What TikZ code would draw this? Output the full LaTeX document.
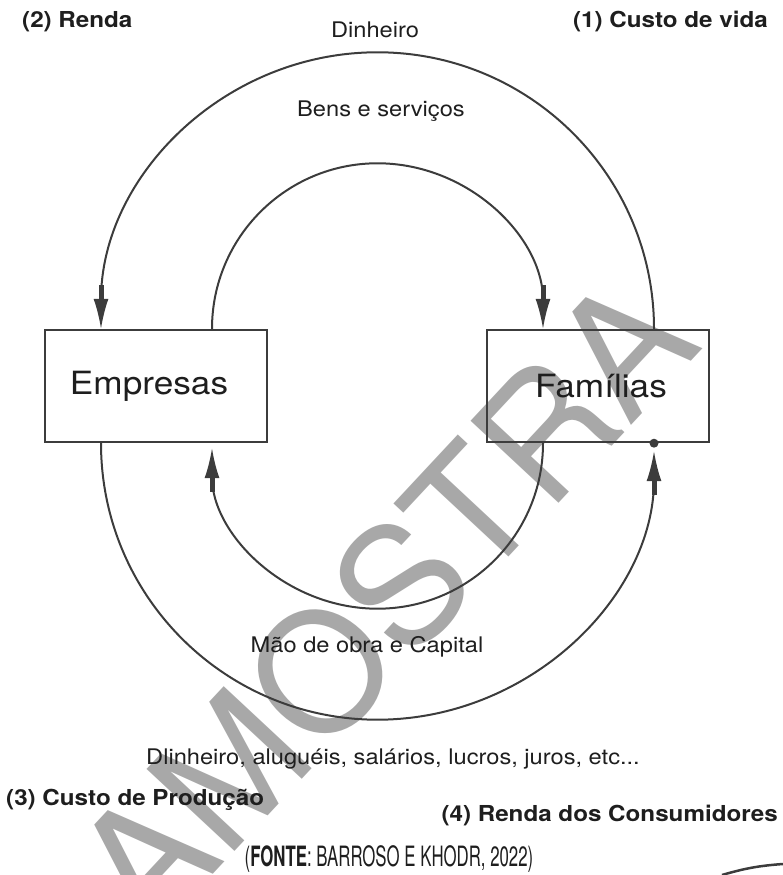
\documentclass[tikz,border=0pt]{standalone}
\usepackage{fontspec}
\setmainfont{TeX Gyre Heros}[FakeStretch=1.1]
\newfontfamily\wmfont{TeX Gyre Heros}
\newfontfamily\srcfont{TeX Gyre Heros}[FakeStretch=0.6]
\usetikzlibrary{arrows.meta}
\definecolor{ln}{HTML}{3C3C3C}
\definecolor{tx}{HTML}{1E1E1E}
\definecolor{wm}{HTML}{A8A8A8}
\begin{document}
\begin{tikzpicture}[x=1pt,y=1pt,
  box/.style={draw=ln,line width=2.4pt,minimum width=222pt,minimum height=112pt,inner sep=0pt},
  flow/.style={draw=ln,line width=2pt},
  tip/.style={-{Rectangle[length=14pt,width=5pt,sep=0pt]Latex[length=30pt,width=15pt]}},
  lbl/.style={text=tx,font=\fontsize{21.5}{24}\selectfont,inner sep=0pt},
  blbl/.style={text=tx,font=\bfseries\fontsize{22}{24}\selectfont,inner sep=0pt},
  boxtxt/.style={text=tx,font=\fontsize{32}{34}\selectfont,inner sep=0pt},
  srclbl/.style={text=tx,font=\srcfont\fontsize{28}{30}\selectfont,inner sep=0pt}]
\useasboundingbox (0,0) rectangle (783,875);
% watermark
\node[text=wm,font=\wmfont\fontsize{165}{165}\selectfont,rotate=47,inner sep=0pt] (wmark) at (384,272) {AMOSTRA};
% boxes
\node[box] (emp) at (156,489) {};
\node[box] (fam) at (598,489) {};
\node[boxtxt] (empt) at ([xshift=-7pt]emp.center) {Empresas};
\node[boxtxt] (famt) at ([xshift=3pt]fam.center) {Famílias};
% anchor points on the boxes
\coordinate (eTo) at ([xshift=-55pt]emp.north);
\coordinate (eTi) at ([xshift=56pt]emp.north);
\coordinate (eBo) at ([xshift=-55pt]emp.south);
\coordinate (eBi) at ([xshift=56pt]emp.south);
\coordinate (fTi) at ([xshift=-55pt]fam.north);
\coordinate (fTo) at ([xshift=56pt]fam.north);
\coordinate (fBi) at ([xshift=-55pt]fam.south);
\coordinate (fBo) at ([xshift=56pt]fam.south);
% flows
\draw[flow,tip] (fTo) arc[start angle=0,end angle=180,radius=276.5];
\draw[flow,tip] (eTi) arc[start angle=180,end angle=0,radius=165.5];
\draw[flow,tip,shorten >=8pt] (eBo) arc[start angle=180,end angle=360,radius=276.5];
\draw[flow,tip,shorten >=5pt] (fBi) arc[start angle=0,end angle=-180,radius=165.5];
\fill[ln] (fBo) circle (4.5pt);
% labels
\node[blbl,anchor=base west] (l2) at (22,847) {(2) Renda};
\node[blbl,anchor=base east] (l1) at (768,847) {(1) Custo de vida};
\node[lbl,anchor=base] (din) at (375,837) {Dinheiro};
\node[lbl,anchor=base] (bens) at (381,758) {Bens e serviços};
\node[lbl,anchor=base] (mao) at (367,222) {Mão de obra e Capital};
\node[lbl,anchor=base] (dl) at (393,110) {Dlinheiro, aluguéis, salários, lucros, juros, etc...};
\node[blbl,anchor=base west] (l3) at (6,69) {(3) Custo de Produção};
\node[blbl,anchor=base east] (l4) at (778,53) {(4) Renda dos Consumidores};
\node[srclbl,anchor=base] (src) at (389,9) {({\bfseries FONTE}: BARROSO E KHODR, 2022)};
% corner fragment
\draw[ln,line width=2.5pt] (722,0) to[bend left=6] (783,11);
\end{tikzpicture}
\end{document}
